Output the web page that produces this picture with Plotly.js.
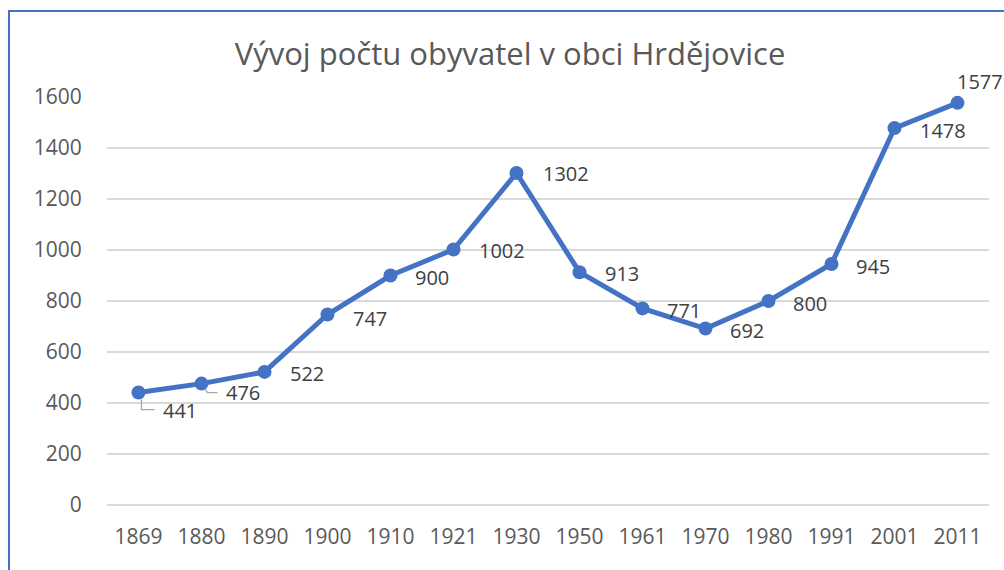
<!DOCTYPE html>
<html>
<head>
<meta charset="utf-8">
<script src="https://cdn.plot.ly/plotly-3.0.1.min.js"></script>
<style>
html,body{margin:0;padding:0;width:1004px;height:570px;overflow:hidden;background:#fff;}
#chart{position:absolute;left:0;top:0;width:1004px;height:570px;}
#frame{position:absolute;left:8px;top:10px;width:1100px;height:700px;border-left:2px solid #4472C4;border-top:2px solid #4472C4;pointer-events:none;}
</style>
</head>
<body>
<div id="chart"></div>
<div id="frame"></div>
<script>
// ---- data ----
const years = ["1869","1880","1890","1900","1910","1921","1930","1950","1961","1970","1980","1991","2001","2011"];
const population = [441,476,522,747,900,1002,1302,913,771,692,800,945,1478,1577];
const yTicks = [0,200,400,600,800,1000,1200,1400,1600];
const chartTitle = "Vývoj počtu obyvatel v obci Hrdějovice";

// ---- styling (label offsets in px: [dx to label left edge, dy down]) ----
const labelOffsets = [[22,18],[22,9],[23,2],[23,4],[22,2],[23,1],[24,1],[23,1],[22,2],[22,2],[22,2],[22,2],[23,2],[-3,-21]];
const FONT = "Open Sans, Noto Sans, sans-serif";

const trace = {
  x: years, y: population, type: "scatter", mode: "lines+markers",
  line: {color: "#4472C4", width: 5},
  marker: {color: "#4472C4", size: 14},
  hoverinfo: "skip", cliponaxis: false
};

const annotations = population.map((v, i) => ({
  x: i, y: v, xref: "x", yref: "y",
  text: String(v), showarrow: false,
  xanchor: "left", yanchor: "middle",
  xshift: labelOffsets[i][0], yshift: -labelOffsets[i][1],
  font: {family: FONT, size: 20, color: "#404040"}
}));

const layout = {
  width: 1004, height: 570,
  margin: {l: 107, r: 15, t: 97, b: 65},
  paper_bgcolor: "rgba(0,0,0,0)", plot_bgcolor: "#fff",
  showlegend: false,
  title: {text: chartTitle, x: 0.508, xanchor: "center", y: 0.905, yanchor: "middle",
          font: {family: FONT, size: 31, color: "#595959"}},
  xaxis: {type: "category", range: [-0.5, 13.5], showgrid: false, zeroline: false,
          showline: false, ticks: "outside", ticklen: 13, tickcolor: "rgba(0,0,0,0)",
          tickfont: {family: FONT, size: 21, color: "#595959"}, fixedrange: true},
  yaxis: {range: [0, 1600], tickvals: yTicks, showgrid: true, gridcolor: "#D9D9D9", gridwidth: 1.5,
          zeroline: true, zerolinecolor: "#D9D9D9", zerolinewidth: 1.5, showline: false,
          ticks: "outside", ticklen: 20, tickcolor: "rgba(0,0,0,0)",
          tickfont: {family: FONT, size: 21, color: "#595959"}, fixedrange: true},
  annotations: annotations
};

Plotly.newPlot("chart", [trace], layout, {displayModeBar: false, staticPlot: true}).then(function(){
  // leader lines for the first two labels (pixel offsets from the data points)
  const mk = (i, path) => ({type: "path", xref: "x", yref: "y", xsizemode: "pixel", ysizemode: "pixel",
    xanchor: i, yanchor: population[i], path: path, line: {color: "#A6A6A6", width: 1.3}});
  Plotly.relayout("chart", {shapes: [mk(0, "M3,-7L3,-17L16,-17"), mk(1, "M4,-6L6,-9L16,-9")]});
});
</script>
</body>
</html>
